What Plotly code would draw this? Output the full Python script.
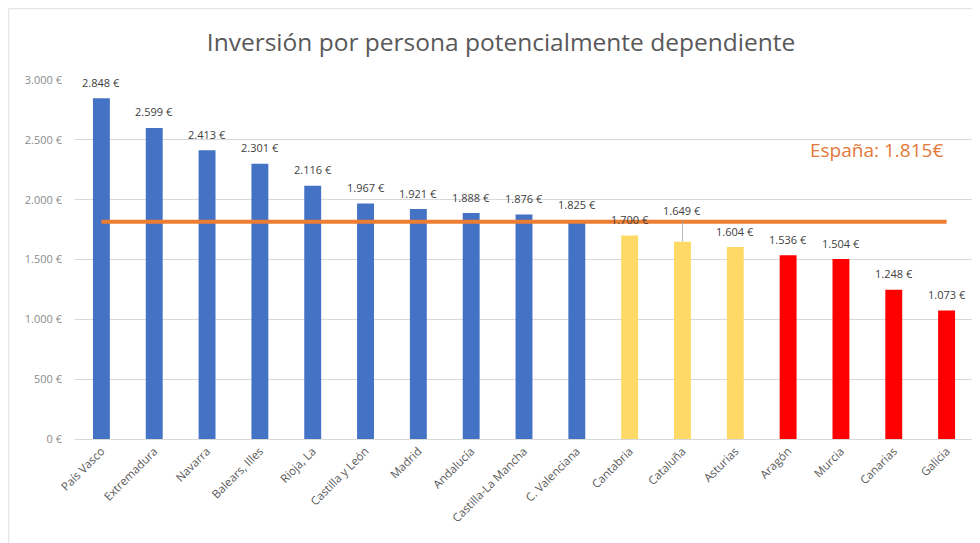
import plotly.graph_objects as go

categories = ["País Vasco", "Extremadura", "Navarra", "Balears, Illes", "Rioja, La",
              "Castilla y León", "Madrid", "Andalucía", "Castilla-La Mancha", "C. Valenciana",
              "Cantabria", "Cataluña", "Asturias", "Aragón", "Murcia", "Canarias", "Galicia"]
values = [2848, 2599, 2413, 2301, 2116, 1967, 1921, 1888, 1876, 1825,
          1700, 1649, 1604, 1536, 1504, 1248, 1073]
groups = ["alto"] * 10 + ["medio"] * 3 + ["bajo"] * 4
espana = 1815
espana_label = "España: 1.815€"
title = "Inversión por persona potencialmente dependiente"

group_colors = {"alto": "#4472C4", "medio": "#FFD966", "bajo": "#FF0000"}
colors = [group_colors[g] for g in groups]

FONT = "Open Sans"
W, H = 972, 535
ML, MR, MT, MB = 67, 7, 72, 104

def fmt(v):
    return f"{v:,}".replace(",", ".") + " €"

fig = go.Figure()
fig.add_trace(go.Bar(x=categories, y=values, marker=dict(color=colors, line=dict(width=0)),
                     hoverinfo="x+y"))
fig.add_trace(go.Scatter(x=[categories[0], categories[-1]], y=[espana, espana], mode="lines",
                         line=dict(color="#ED7D31", width=4), hoverinfo="skip"))

label_font = dict(family=FONT, size=11, color="#404040")
annotations = []
for c, v in zip(categories, values):
    if c == "Cataluña":
        annotations.append(dict(x=c, y=v, text=fmt(v), showarrow=True, ax=0, ay=-31,
                                arrowhead=0, arrowwidth=0.8, arrowcolor="#A6A6A6",
                                font=label_font))
    else:
        annotations.append(dict(x=c, y=v, text=fmt(v), showarrow=False, yshift=16,
                                font=label_font))
annotations.append(dict(xref="paper", yref="y", x=0.893, y=2414, text=espana_label,
                        showarrow=False, xanchor="center", yanchor="middle",
                        font=dict(family=FONT, size=19, color="#E2793A")))

pw = W - ML - MR
ph = H - MT - MB
x_left = (0.5 - ML) / pw
y_top = (H - 0.5 - MB) / ph
shapes = [
    dict(type="line", xref="paper", yref="paper", x0=x_left, x1=(W - ML) / pw, y0=y_top, y1=y_top,
         line=dict(color="#E6E6E6", width=1.5)),
    dict(type="line", xref="paper", yref="paper", x0=x_left, x1=x_left, y0=y_top, y1=-MB / ph,
         line=dict(color="#E6E6E6", width=1.5)),
]

fig.update_layout(
    width=W, height=H,
    margin=dict(l=ML, r=MR, t=MT, b=MB),
    paper_bgcolor="white", plot_bgcolor="white",
    separators=",.",
    showlegend=False,
    bargap=0.68,
    font=dict(family=FONT, color="#595959"),
    title=dict(text=title, x=493 / W, xanchor="center", xref="container",
               y=1 - 34 / H, yanchor="middle", yref="container",
               font=dict(family=FONT, size=24.5, color="#595959")),
    xaxis=dict(tickangle=-45, tickfont=dict(size=11.5, color="#595959"), showgrid=False,
               showline=True, linecolor="#D9D9D9", linewidth=1, ticks=""),
    yaxis=dict(range=[0, 3000], dtick=500, tickformat=",d", ticksuffix=" €",
               tickfont=dict(size=11, color="#8C8C8C"), gridcolor="#D9D9D9", gridwidth=1,
               zeroline=False, ticklabelstandoff=12),
    annotations=annotations,
    shapes=shapes,
)

fig.write_html("out.html")
